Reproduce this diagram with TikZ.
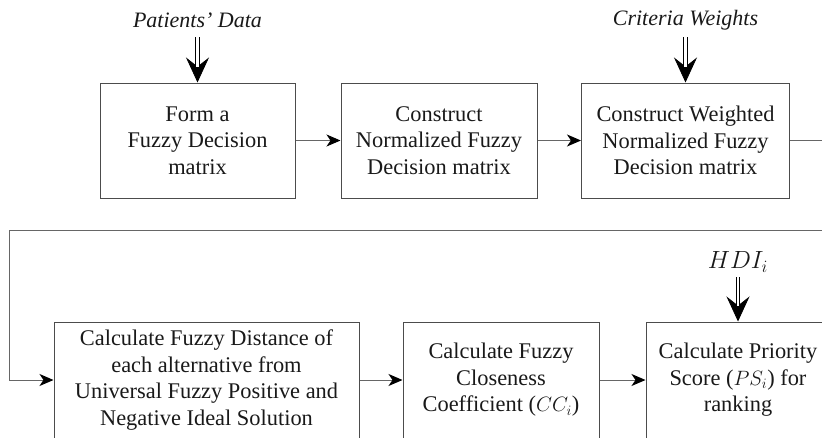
\documentclass[tikz,border=0pt]{standalone}
\usepackage{fontspec}
\setmainfont{Liberation Serif}
\usetikzlibrary{arrows.meta}
\begin{document}
\begin{tikzpicture}[x=1pt,y=-1pt,
  box/.style={draw=black!70, line width=1pt, align=center, inner sep=0pt,
    font=\fontsize{22.4}{26.5}\selectfont, text=black!90},
  lbl/.style={font=\fontsize{22}{25}\selectfont\itshape, inner sep=0pt, text=black!90},
  arr/.style={draw=black!60, line width=1pt, -{Stealth[length=14pt,width=12pt,inset=4pt,black]}},
  heavy/.style={draw=black, line width=0.8pt, -{Stealth[length=25pt,width=23pt,inset=9pt]}},
  dbl/.style={draw=black, double=white, double distance=2.3pt, line width=0.9pt}
]
\useasboundingbox (0,0) rectangle (822,437);
\clip (0,0) rectangle (822,437);

% top row
\node[box, minimum width=195pt, minimum height=115pt] (b1) at (197.5,140.5) {Form a\\Fuzzy Decision\\matrix};
\node[box, minimum width=196pt, minimum height=115pt] (b2) at (439,140.5) {Construct\\Normalized Fuzzy\\Decision matrix};
\node[box, minimum width=208pt, minimum height=115pt] (b3) at (685.5,140.5) {Construct Weighted\\Normalized Fuzzy\\Decision matrix};

% bottom row
\node[box, minimum width=305pt, minimum height=116pt] (b4) at (206.5,380) {Calculate Fuzzy Distance of\\each alternative from\\Universal Fuzzy Positive and\\Negative Ideal Solution};
\node[box, minimum width=196pt, minimum height=116pt] (b5) at (501,380) {Calculate Fuzzy\\Closeness\\Coefficient ($CC_i$)};
\node[box, minimum width=184pt, minimum height=116pt] (b6) at (738,380) {Calculate Priority\\Score ($PS_i$) for\\ranking};

% inputs
\node[lbl] (p) at (197.5,20) {Patients’ Data};
\node[lbl] (w) at (685.5,20) {Criteria Weights};
\node[lbl, font=\fontsize{23}{25}\selectfont] (h) at (738,262) {$HDI_i$};

\coordinate (pa) at (197.5,37);
\coordinate (wa) at (685.5,37);
\coordinate (ha) at (738,277);

\foreach \s/\t in {pa/b1,wa/b3,ha/b6}{
  \draw[heavy] (\s) -- (\t.north);
  \draw[dbl, shorten >=16pt] (\s) -- (\t.north);
}

% connectors
\draw[arr] (b1) -- (b2);
\draw[arr] (b2) -- (b3);
\coordinate (r1) at (840,140.5);
\coordinate (r2) at (9,230);
\draw[arr] (b3.east) -- (r1) |- (r2) |- (b4.west);
\draw[arr] (b4) -- (b5);
\draw[arr] (b5) -- (b6);
\end{tikzpicture}
\end{document}
